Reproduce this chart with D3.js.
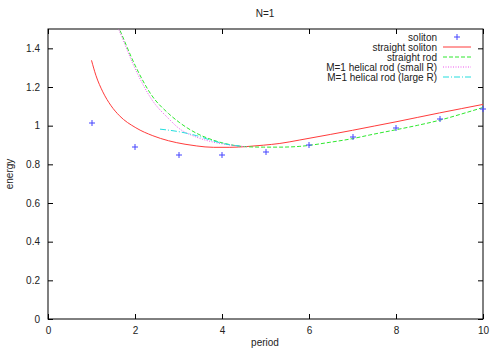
<!DOCTYPE html>
<html lang="en">
<head>
  <meta charset="UTF-8">
  <title>N=1</title>
  <script src="https://d3js.org/d3.v7.min.js"></script>
  <style>
    body { margin: 0; background: #fff; }
    svg text { font-family: "Liberation Sans", Arial, sans-serif; font-size: 10px; fill: #222; }
  </style>
</head>
<body>
  <svg id="chart" width="500" height="350"></svg>
  <script>
    // values
    const xTicks = [0, 2, 4, 6, 8, 10];
    const yTicks = [0, 0.2, 0.4, 0.6, 0.8, 1, 1.2, 1.4];

    const solitonPeriod = [1, 2, 3, 4, 5, 6, 7, 8, 9, 10];
    const solitonEnergy = [1.013, 0.889, 0.848, 0.848, 0.866, 0.899, 0.943, 0.987, 1.032, 1.084];

    const straightSoliton = [
      [1.0, 1.338], [1.1, 1.261], [1.26, 1.175], [1.45, 1.103], [1.64, 1.052], [2.02, 0.989],
      [2.41, 0.948], [2.77, 0.922], [3.15, 0.904], [3.42, 0.895], [3.8, 0.888], [4.18, 0.888],
      [4.57, 0.892], [4.95, 0.899], [5.33, 0.908], [5.79, 0.926], [6.5, 0.955], [7.0, 0.976],
      [7.5, 0.998], [8.0, 1.02], [8.5, 1.043], [9.0, 1.066], [9.5, 1.088], [10, 1.11]
    ];
    const straightRod = [
      [1.6, 1.52], [1.64, 1.5], [2.0, 1.313], [2.38, 1.158], [2.77, 1.063], [3.03, 1.015],
      [3.42, 0.960], [3.8, 0.925], [4.18, 0.902], [4.57, 0.891], [4.95, 0.889], [5.33, 0.889],
      [5.79, 0.893], [6.48, 0.914], [7.0, 0.933], [7.4, 0.952], [8.09, 0.983], [8.5, 1.002],
      [9.0, 1.028], [9.5, 1.06], [10, 1.094]
    ];
    const helicalSmall = [
      [1.58, 1.52], [1.62, 1.5], [2.0, 1.296], [2.38, 1.137], [2.77, 1.037], [3.0, 0.988],
      [3.42, 0.940], [3.8, 0.915], [4.18, 0.900], [4.57, 0.891]
    ];
    const helicalLarge = [
      [2.575, 0.982], [3.03, 0.968], [3.42, 0.948], [3.8, 0.921], [4.18, 0.901], [4.4, 0.895]
    ];

    const svg = d3.select("#chart");
    const margin = { top: 29, right: 17, bottom: 31, left: 48 };
    const width = 500 - margin.left - margin.right;
    const height = 350 - margin.top - margin.bottom;

    const g = svg.append("g").attr("transform", `translate(${margin.left},${margin.top})`);

    const x = d3.scaleLinear().domain([0, 10]).range([0, width]);
    const y = d3.scaleLinear().domain([0, 1.5]).range([height, 0]);

    svg.append("defs").append("clipPath").attr("id", "clip")
      .append("rect").attr("width", width).attr("height", height);

    // ticks on all four sides, pointing inward
    const tickLen = 5;
    const axes = [
      d3.axisBottom(x).tickValues(xTicks).tickSize(-tickLen).tickPadding(8),
      d3.axisTop(x).tickValues(xTicks).tickSize(-tickLen).tickFormat(""),
      d3.axisLeft(y).tickValues(yTicks).tickSize(-tickLen).tickPadding(8).tickFormat(d3.format("~g")),
      d3.axisRight(y).tickValues(yTicks).tickSize(-tickLen).tickFormat("")
    ];
    const transforms = [`translate(0,${height})`, "translate(0,0)", "translate(0,0)", `translate(${width},0)`];
    axes.forEach((ax, i) => {
      const a = g.append("g").attr("transform", transforms[i]).call(ax);
      a.select(".domain").remove();
      a.selectAll(".tick line").attr("stroke", "#000");
      a.selectAll("text").attr("font-size", null).attr("font-family", null);
    });

    g.append("rect").attr("width", width).attr("height", height)
      .attr("fill", "none").attr("stroke", "#000").attr("stroke-width", 1);

    const line = d3.line().x(d => x(d[0])).y(d => y(d[1])).curve(d3.curveMonotoneX);
    const plot = g.append("g").attr("clip-path", "url(#clip)");

    const series = [
      { name: "straight soliton", data: straightSoliton, color: "#ff3b3b", dash: null },
      { name: "straight rod", data: straightRod, color: "#2ee82e", dash: "4,2" },
      { name: "M=1 helical rod (small R)", data: helicalSmall, color: "#ee55ee", dash: "1,1.5" },
      { name: "M=1 helical rod (large R)", data: helicalLarge, color: "#22dddd", dash: "6,2,1,2" }
    ];

    series.forEach(s => {
      plot.append("path").datum(s.data)
        .attr("fill", "none").attr("stroke", s.color).attr("stroke-width", 1)
        .attr("stroke-dasharray", s.dash).attr("d", line);
    });

    // crosses on whole pixels: soft 2px strokes like the reference
    const cross = (cx, cy) => {
      cx = Math.round(cx); cy = Math.round(cy);
      return `M${cx - 3},${cy}H${cx + 3}M${cx},${cy - 3}V${cy + 3}`;
    };
    const pointColor = "#4545ff";
    g.append("g").selectAll("path")
      .data(solitonPeriod.map((p, i) => [p, solitonEnergy[i]]))
      .join("path")
      .attr("d", d => cross(x(d[0]), y(d[1])))
      .attr("stroke", pointColor).attr("stroke-width", 1).attr("fill", "none");

    // legend
    const legend = g.append("g");
    const legendRows = [{ name: "soliton", point: true }, ...series];
    const textRight = 437 - margin.left;
    const sampleX0 = 443 - margin.left, sampleX1 = 471 - margin.left;
    legendRows.forEach((r, i) => {
      const ry = 37 + i * 10 - margin.top;
      legend.append("text").attr("x", textRight).attr("y", ry).attr("dy", "0.35em")
        .attr("text-anchor", "end").text(r.name);
      if (r.point) {
        legend.append("path").attr("d", cross((sampleX0 + sampleX1) / 2, ry))
          .attr("stroke", pointColor).attr("fill", "none");
      } else {
        legend.append("line").attr("x1", sampleX0).attr("x2", sampleX1).attr("y1", ry).attr("y2", ry)
          .attr("stroke", r.color).attr("stroke-dasharray", r.dash);
      }
    });

    svg.append("text").attr("x", 265).attr("y", 17).attr("text-anchor", "middle").text("N=1");
    svg.append("text").attr("x", 265).attr("y", 346).attr("text-anchor", "middle").text("period");
    svg.append("text").attr("transform", "translate(13,174) rotate(-90)")
      .attr("text-anchor", "middle").text("energy");
  </script>
</body>
</html>
